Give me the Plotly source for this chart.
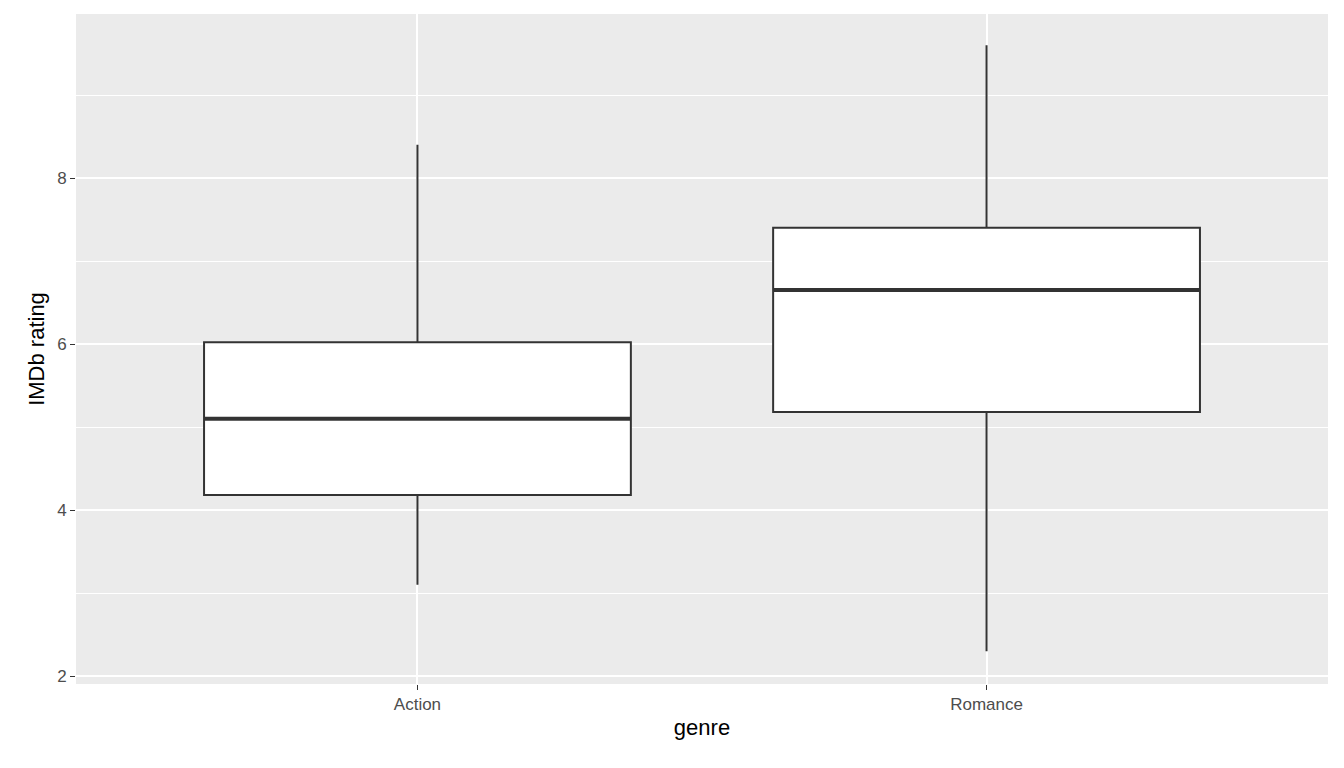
from plotly import graph_objects as go

genres = ["Action", "Romance"]
lower = [3.1, 2.3]
q1 = [4.18, 5.18]
median = [5.1, 6.65]
q3 = [6.02, 7.4]
upper = [8.4, 9.6]

box_width = 0.75
pos = list(range(len(genres)))

fig = go.Figure()
fig.add_trace(go.Box(
    x=pos, q1=q1, median=median, q3=q3,
    lowerfence=lower, upperfence=upper,
    width=box_width, fillcolor="white",
    line=dict(color="#333333", width=2),
    whiskerwidth=0, showlegend=False, hoverinfo="skip",
))

# thicker median bars, ggplot style
for i, m in zip(pos, median):
    fig.add_trace(go.Scatter(
        x=[i - box_width / 2, i + box_width / 2], y=[m, m],
        mode="lines", line=dict(color="#333333", width=4),
        showlegend=False, hoverinfo="skip",
    ))

axis_common = dict(
    showline=False, zeroline=False, ticks="outside", ticklen=5,
    tickcolor="#333333", tickwidth=1.2,
    tickfont=dict(family="Liberation Sans, Arial", size=17, color="#4D4D4D"),
    gridcolor="white", gridwidth=2,
)

fig.update_xaxes(range=[-0.6, 1.6], tickvals=pos, ticktext=genres,
                 title=dict(text="genre", font=dict(size=22, color="black"), standoff=6),
                 **axis_common)
fig.update_yaxes(range=[1.904, 9.976], tickvals=[2, 4, 6, 8],
                 minor=dict(tickvals=[3, 5, 7, 9], gridcolor="white", gridwidth=1, ticks=""),
                 title=dict(text="IMDb rating", font=dict(size=22, color="black"), standoff=6),
                 **axis_common)

fig.update_layout(
    width=1344, height=768,
    margin=dict(l=68, r=24, t=6, b=92),
    plot_bgcolor="#EBEBEB", paper_bgcolor="white",
    font=dict(family="Liberation Sans, Arial"),
)

fig.write_html("out.html")
